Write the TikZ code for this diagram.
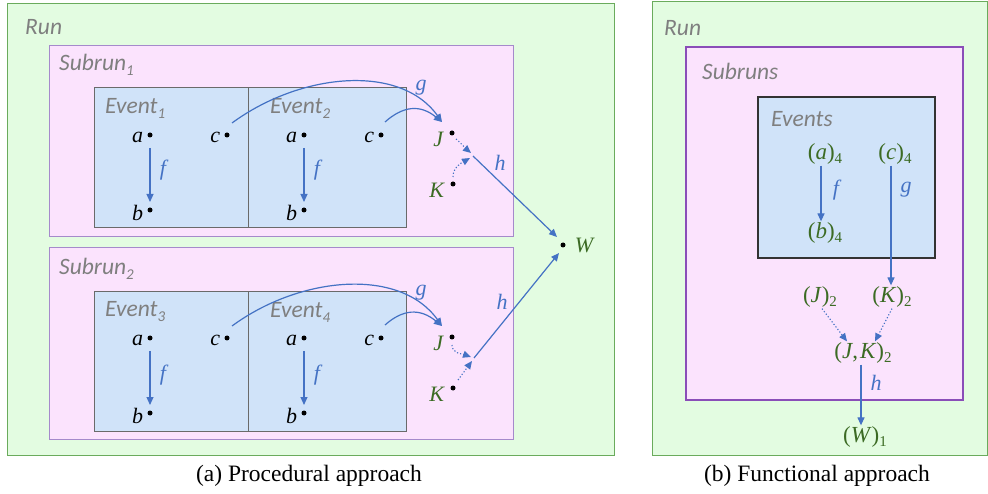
\documentclass[tikz,border=0pt]{standalone}
\usepackage{fontspec}
\setmainfont{Liberation Serif}
\newfontfamily\carl{Carlito}
\usetikzlibrary{arrows.meta,calc}
\definecolor{runfill}{HTML}{E3FCE1}
\definecolor{runborder}{HTML}{6AAB5C}
\definecolor{subfill}{HTML}{FBE3FD}
\definecolor{subborder}{HTML}{A58ACB}
\definecolor{subborderB}{HTML}{8A4DB8}
\definecolor{evfill}{HTML}{D0E3F9}
\definecolor{evborder}{HTML}{6A6A6A}
\definecolor{flowblue}{HTML}{4472C4}
\definecolor{grn}{HTML}{3C6B24}
\definecolor{labgray}{HTML}{7F7F7F}
\newcommand{\vr}[1]{\textit{#1}}
\newcommand{\sbs}[1]{\raisebox{-5pt}{\fontsize{15}{15}\selectfont #1}}
\newcommand{\gsb}[1]{\raisebox{-4pt}{\fontsize{15}{15}\selectfont #1}}
\tikzset{
 runbox/.style={draw=runborder, fill=runfill, line width=1pt},
 subbox/.style={draw=subborder, fill=subfill, line width=1pt},
 evbox/.style={draw=evborder, fill=evfill, line width=1pt},
 boxlab/.style={anchor=west, font=\carl\itshape\fontsize{23.5}{27}\selectfont, text=labgray, inner sep=0pt},
 dot/.style={circle, fill=black, inner sep=0pt, minimum size=5pt},
 mlab/.style={font=\itshape\fontsize{22}{26}\selectfont, inner sep=1pt},
 glab/.style={mlab, text=grn},
 flow/.style={draw=flowblue, line width=1.2pt, -{Triangle[length=8pt,width=7pt]}},
 dflow/.style={flow, dotted, line width=1.1pt},
 flab/.style={text=flowblue, font=\itshape\fontsize{22}{26}\selectfont, inner sep=0pt},
 gnode/.style={text=grn, font=\fontsize{23}{27}\selectfont, inner sep=1pt},
 captext/.style={font=\fontsize{23.5}{28}\selectfont, inner sep=0pt}
}
\begin{document}
\begin{tikzpicture}[x=1pt,y=1pt]
\useasboundingbox (0,0) rectangle (988,493);
% ---------------- (a) ----------------
\draw[runbox] (7,38) rectangle (614,489);
\node[boxlab] (runA) at (25,466) {Run};
% subrun 1
\draw[subbox] (49,256) rectangle (513,447);
\node[boxlab] (sub1) at (59,428) {Subrun\sbs{1}};
\draw[evbox] (94,265) rectangle (248,405);
\draw[evbox] (248,265) rectangle (406,405);
\node[boxlab] (ev1) at (105,385) {Event\sbs{1}};
\node[boxlab] (ev2) at (270,385) {Event\sbs{2}};
\node[dot, label={[mlab, label distance=3pt, yshift=-2pt]left:a}] (a1) at (150,358) {};
\node[dot, label={[mlab, label distance=3pt, yshift=-2pt]left:c}] (c1) at (227,358) {};
\node[dot, label={[mlab, label distance=3pt, yshift=-3pt]left:b}] (b1) at (150,283) {};
\node[dot, label={[mlab, label distance=3pt, yshift=-2pt]left:a}] (a2) at (304,358) {};
\node[dot, label={[mlab, label distance=3pt, yshift=-2pt]left:c}] (c2) at (381,358) {};
\node[dot, label={[mlab, label distance=3pt, yshift=-3pt]left:b}] (b2) at (304,283) {};
\node[dot, label={[glab, label distance=5pt, yshift=-6pt]left:J}] (J1) at (452,360) {};
\node[dot, label={[glab, label distance=5pt, yshift=-6pt]left:K}] (K1) at (453,309) {};
\coordinate (m1) at (473,337);
\draw[flow] ([yshift=-13pt]a1.center) -- ([yshift=8pt]b1.center);
\node[flab] (f1) at (163,323) {f};
\draw[flow] ([yshift=-13pt]a2.center) -- ([yshift=8pt]b2.center);
\node[flab] (f2) at (317,323) {f};
\draw[flow] ([shift={(5,12)}]c1.center) .. controls +(68,50) and +(-42,59) .. ([shift={(-10,11)}]J1.center);
\draw[flow] ([shift={(4,13)}]c2.center) .. controls +(18,16) and +(-22,18) .. ([shift={(-10,11)}]J1.center);
\node[flab] (g1) at (421,405) {g};
\draw[dflow] ([shift={(4,-6)}]J1.center) to[out=-40,in=140] ([shift={(-2,3)}]m1);
\draw[dflow] ([shift={(0,7)}]K1.center) to[out=90,in=210] ([shift={(-3,-2)}]m1);
% W
\node[dot, label={[glab, label distance=8pt]right:W}] (W) at (563,248) {};
\draw[flow] (m1) -- ([shift={(-6,8)}]W.center);
\node[flab] (h1) at (500,330) {h};
% subrun 2
\draw[subbox] (49,54) rectangle (513,245);
\node[boxlab] (sub2) at (59,224) {Subrun\sbs{2}};
\draw[evbox] (94,62) rectangle (248,201);
\draw[evbox] (248,62) rectangle (406,201);
\node[boxlab] (ev3) at (105,181) {Event\sbs{3}};
\node[boxlab] (ev4) at (270,181) {Event\sbs{4}};
\node[dot, label={[mlab, label distance=3pt, yshift=-2pt]left:a}] (a3) at (150,155) {};
\node[dot, label={[mlab, label distance=3pt, yshift=-2pt]left:c}] (c3) at (227,155) {};
\node[dot, label={[mlab, label distance=3pt, yshift=-3pt]left:b}] (b3) at (150,80) {};
\node[dot, label={[mlab, label distance=3pt, yshift=-2pt]left:a}] (a4) at (304,155) {};
\node[dot, label={[mlab, label distance=3pt, yshift=-2pt]left:c}] (c4) at (381,155) {};
\node[dot, label={[mlab, label distance=3pt, yshift=-3pt]left:b}] (b4) at (304,80) {};
\node[dot, label={[glab, label distance=5pt, yshift=-6pt]left:J}] (J2) at (452,156) {};
\node[dot, label={[glab, label distance=5pt, yshift=-6pt]left:K}] (K2) at (453,105) {};
\coordinate (m2) at (474,135);
\draw[flow] ([yshift=-13pt]a3.center) -- ([yshift=8pt]b3.center);
\node[flab] (f3) at (163,118) {f};
\draw[flow] ([yshift=-13pt]a4.center) -- ([yshift=8pt]b4.center);
\node[flab] (f4) at (317,118) {f};
\draw[flow] ([shift={(5,12)}]c3.center) .. controls +(68,50) and +(-42,59) .. ([shift={(-10,11)}]J2.center);
\draw[flow] ([shift={(4,13)}]c4.center) .. controls +(18,16) and +(-22,18) .. ([shift={(-10,11)}]J2.center);
\node[flab] (g2) at (421,200) {g};
\draw[dflow] ([shift={(0,-8)}]J2.center) to[out=-90,in=160] ([shift={(-3,1)}]m2);
\draw[dflow] ([shift={(5,8)}]K2.center) -- ([shift={(-2,-3)}]m2);
\draw[flow] (m2) -- ([shift={(-4,-8)}]W.center);
\node[flab] (h2) at (502,191) {h};
\node[captext] (capA) at (309,17) {(a) Procedural approach};
% ---------------- (b) ----------------
\draw[runbox] (652,38) rectangle (987,491);
\node[boxlab] (runB) at (664,465) {Run};
\draw[draw=subborderB, fill=subfill, line width=2.2pt] (686,93) rectangle (963,446);
\node[boxlab] (subs) at (702,422) {Subruns};
\draw[draw=black!80, fill=evfill, line width=2.2pt] (758,235) rectangle (935,396);
\node[boxlab] (evs) at (771,374) {Events};
\node[gnode] (fa) at (825,339) {(\vr{a})\gsb{4}};
\node[gnode] (fc) at (895,339) {(\vr{c})\gsb{4}};
\node[gnode] (fb) at (825,260) {(\vr{b})\gsb{4}};
\node[gnode] (fJ) at (820,196) {(\vr{J})\gsb{2}};
\node[gnode] (fK) at (892,196) {(\vr{K})\gsb{2}};
\node[gnode] (fJK) at (863,140) {(\vr{J},\kern2pt\vr{K})\gsb{2}};
\node[gnode] (fW) at (865,56) {(\vr{W})\gsb{1}};
\draw[flow] ([xshift=-4pt]fa.south) -- ([xshift=-4pt]fb.north);
\node[flab] (ff) at (836,303) {f};
\draw[flow] ([xshift=-4pt]fc.south) -- ([xshift=-1pt]fK.north);
\node[flab] (fg) at (906,303) {g};
\draw[dflow] ([xshift=2pt]fJ.south) -- ([xshift=-16pt]fJK.north);
\draw[dflow] ([xshift=0pt]fK.south) -- ([xshift=12pt]fJK.north);
\draw[flow] ([xshift=-2pt]fJK.south) -- ([xshift=-4pt]fW.north);
\node[flab] (fh) at (876,110) {h};
\node[captext] (capB) at (817,17) {(b) Functional approach};
\end{tikzpicture}
\end{document}
